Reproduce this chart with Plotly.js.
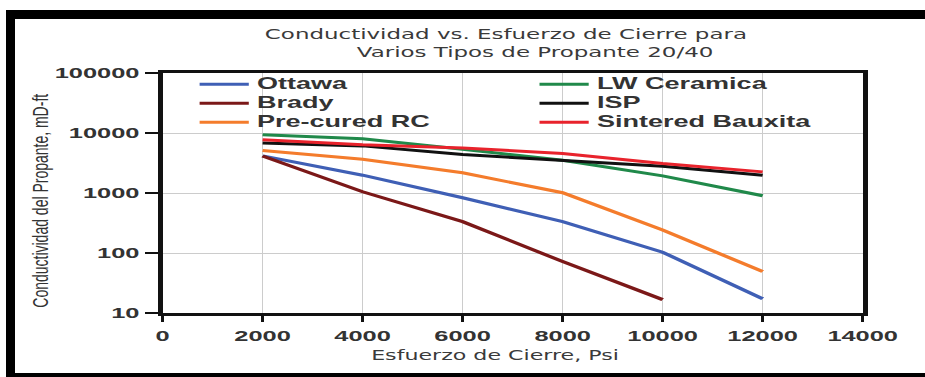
<!DOCTYPE html>
<html>
<head>
<meta charset="utf-8">
<script src="https://cdn.plot.ly/plotly-3.0.1.min.js"></script>
<style>
  html, body { margin: 0; padding: 0; background: #ffffff; overflow: hidden; }
  #frame {
    position: absolute; left: 6px; top: 10px;
    width: 910px; height: 354px;
    border-top: 9px solid #000; border-left: 9px solid #000; border-bottom: 4px solid #000;
    overflow: hidden; background: #fff;
  }
  #chart { width: 555px; height: 354px; transform: scaleX(1.6396); transform-origin: 0 0; }
  g.legend text, g.legend2 text, text.legendtext { font-size: 16.5px !important; }
  g.legend g.scrollbox, g.legend2 g.scrollbox, g.legend, g.legend2 { clip-path: none !important; }
</style>
</head>
<body>
<div id="frame"><div id="chart"></div></div>
<script>
// Data
const stress = [2000, 4000, 6000, 8000, 10000, 12000];
const stressBrady = [2000, 4000, 6000, 8000, 10000];
const ottawa = [4150, 1980, 834, 333, 103, 17.3];
const brady = [4150, 1050, 333, 72, 16.7];
const precuredRC = [5090, 3660, 2170, 1010, 242, 49];
const lwCeramica = [9380, 8050, 5360, 3520, 1930, 900];
const isp = [6820, 6100, 4370, 3520, 2800, 1980];
const sinteredBauxita = [7750, 6400, 5640, 4540, 3100, 2250];

const seriesNames = ['Ottawa', 'Brady', 'Pre-cured RC', 'LW Ceramica', 'ISP', 'Sintered Bauxita'];
const seriesColors = ['#3f5fb5', '#7b1818', '#f47c2c', '#20894a', '#111111', '#e8232c'];
const seriesX = [stress, stressBrady, stress, stress, stress, stress];
const seriesY = [ottawa, brady, precuredRC, lwCeramica, isp, sinteredBauxita];
const seriesLegend = ['legend', 'legend', 'legend', 'legend2', 'legend2', 'legend2'];

const yTickVals = [10, 100, 1000, 10000, 100000];
const yTickText = ['10', '100', '1000', '10000', '100000'];
const xTickVals = [0, 2000, 4000, 6000, 8000, 10000, 12000, 14000];
const xTickText = ['0', '2000', '4000', '6000', '8000', '10000', '12000', '14000'];

const titleLine1 = 'Conductividad vs. Esfuerzo de Cierre para';
const titleLine2 = 'Varios Tipos de Propante 20/40';
const xTitle = 'Esfuerzo de Cierre, Psi';
const yTitle = 'Conductividad del Propante, mD-ft';

const traces = seriesNames.map((name, i) => ({
  type: 'scatter', mode: 'lines', name: name,
  x: seriesX[i], y: seriesY[i],
  line: { color: seriesColors[i], width: 3 },
  legend: seriesLegend[i]
}));

const legendFont = () => ({ family: 'Liberation Sans, Arial, sans-serif', size: 12, weight: 'bold', color: '#333333' });
const tickFont = { family: 'Liberation Sans, Arial, sans-serif', size: 15.5, weight: 'bold', color: '#333333' };

const nb = '&nbsp;';
const layout = {
  width: 555, height: 354,
  margin: { l: 89.6, r: 38.4, t: 54, b: 60, autoexpand: false },
  paper_bgcolor: '#ffffff', plot_bgcolor: '#ffffff',
  showlegend: true,
  title: {
    text: titleLine1 + '<br>' + nb.repeat(8) + titleLine2,
    font: { family: 'DejaVu Sans, sans-serif', size: 14, color: '#3a3a3a' },
    x: 0.5395, xanchor: 'center', xref: 'container',
    y: 0.943, yanchor: 'top', yref: 'container'
  },
  xaxis: {
    type: 'linear', range: [0, 14000],
    tickmode: 'array', tickvals: xTickVals, ticktext: xTickText, tickangle: 0,
    ticks: 'outside', ticklen: 6, tickwidth: 2, tickcolor: '#111',
    ticklabelshift: 6.5,
    showline: true, linecolor: '#111', linewidth: 3, mirror: true,
    showgrid: true, gridcolor: '#cccccc', gridwidth: 1,
    zeroline: false, automargin: false,
    tickfont: tickFont,
    title: { text: xTitle + nb.repeat(5), font: { family: 'DejaVu Sans, sans-serif', size: 13.5, color: '#3a3a3a' }, standoff: 8 }
  },
  yaxis: {
    type: 'log', range: [1, 5],
    tickmode: 'array', tickvals: yTickVals, ticktext: yTickText,
    ticks: 'outside', ticklen: 8, tickwidth: 2, tickcolor: '#111',
    showline: true, linecolor: '#111', linewidth: 3, mirror: true,
    showgrid: true, gridcolor: '#cccccc', gridwidth: 1,
    zeroline: false, automargin: false,
    tickfont: tickFont,
    title: { text: yTitle + nb.repeat(4), font: { family: 'Liberation Sans, Arial, sans-serif', size: 14, color: '#333333' }, standoff: 0.5 }
  },
  legend: {
    xref: 'paper', yref: 'paper',
    x: 0.0412, y: 1.0138, xanchor: 'left', yanchor: 'top',
    orientation: 'v', bgcolor: 'rgba(0,0,0,0)', borderwidth: 0,
    font: legendFont(), itemwidth: 30, traceorder: 'normal'
  },
  legend2: {
    xref: 'paper', yref: 'paper',
    x: 0.5267, y: 1.0138, xanchor: 'left', yanchor: 'top',
    orientation: 'v', bgcolor: 'rgba(0,0,0,0)', borderwidth: 0,
    font: legendFont(), itemwidth: 30, traceorder: 'normal'
  }
};

Plotly.newPlot('chart', traces, layout, { displayModeBar: false, responsive: false, staticPlot: true });
</script>
</body>
</html>
